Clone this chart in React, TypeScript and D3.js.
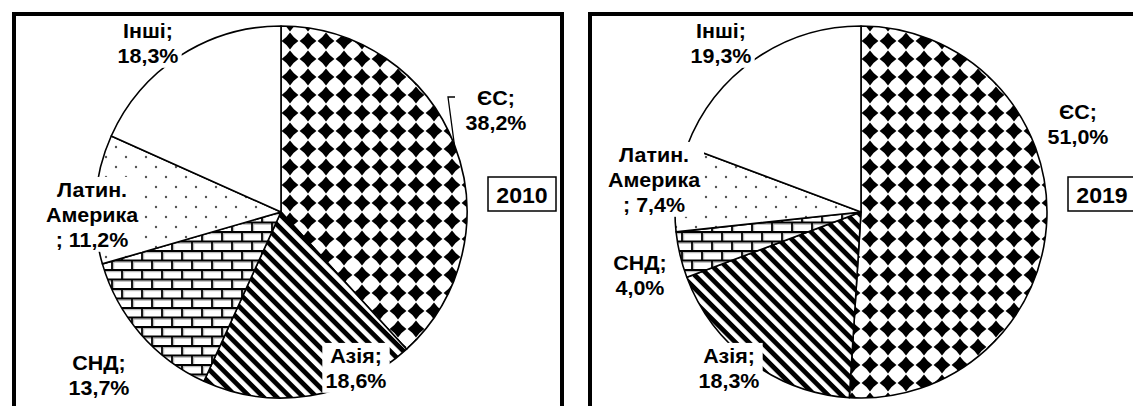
import { useEffect, useRef } from 'react';
import * as d3 from 'd3';

// export shares by region, %
const regions = ['ЄС', 'Азія', 'СНД', 'Латин. Америка', 'Інші'];
const shares2010 = [38.2, 18.6, 13.7, 11.2, 18.3];
const shares2019 = [51.0, 18.3, 4.0, 7.4, 19.3];
const years = ['2010', '2019'];

const W = 1133, H = 406;
const R = 186;
const CY = 212;
const FONT = '"Liberation Sans", Arial, sans-serif';

// layout of the two framed panels
const panelX = [14, 590];
const pieCX = [281, 861];
// label anchors relative to the pie centre (first baseline)
const labelOffsets = [
  [[215, -107], [75, 151], [-182, 158], [-189, -15], [-133, -174]],
  [[217, -93], [-132, 151], [-221, 58], [-207, -50], [-140, -174]],
];
const fills = ['url(#p-diam)', 'url(#p-str)', 'url(#p-brick)', 'url(#p-dots)', '#fff'];

const fmt = (v: number) => d3.format('.1f')(v).replace('.', ',') + '%';

function labelLines(name: string, v: number) {
  if (name === 'Латин. Америка') return ['Латин.', 'Америка', '; ' + fmt(v)];
  return [name + ';', fmt(v)];
}

export default function App() {
  const ref = useRef<SVGSVGElement>(null);

  useEffect(() => {
    const svg = d3.select(ref.current);
    svg.selectAll('*').remove();
    const defs = svg.append('defs');

    // patterns
    const diam = defs.append('pattern').attr('id', 'p-diam').attr('patternUnits', 'userSpaceOnUse')
      .attr('width', 18).attr('height', 18);
    diam.append('rect').attr('width', 18).attr('height', 18).attr('fill', '#fff');
    diam.append('path').attr('fill', '#000')
      .attr('d', 'M9,0.6 Q12.4,5.6 17.4,9 Q12.4,12.4 9,17.4 Q5.6,12.4 0.6,9 Q5.6,5.6 9,0.6Z');

    const str = defs.append('pattern').attr('id', 'p-str').attr('patternUnits', 'userSpaceOnUse')
      .attr('width', 9.4).attr('height', 9.4).attr('patternTransform', 'rotate(45)');
    str.append('rect').attr('width', 9.4).attr('height', 9.4).attr('fill', '#fff');
    str.append('rect').attr('width', 9.4).attr('height', 4.8).attr('fill', '#000');

    const br = defs.append('pattern').attr('id', 'p-brick').attr('patternUnits', 'userSpaceOnUse')
      .attr('width', 20).attr('height', 19);
    br.append('rect').attr('width', 20).attr('height', 19).attr('fill', '#fff');
    br.append('path').attr('stroke', '#aaa').attr('stroke-width', 1).attr('fill', 'none')
      .attr('d', 'M0,2.7H20 M0,12.2H20 M2.7,2.7V10.5 M12.7,12.2V19');
    br.append('path').attr('stroke', '#000').attr('stroke-width', 1.8).attr('fill', 'none')
      .attr('d', 'M0,1H20 M0,10.5H20 M1,1V10.5 M11,10.5V20 M11,0V1');

    const dots = defs.append('pattern').attr('id', 'p-dots').attr('patternUnits', 'userSpaceOnUse')
      .attr('width', 20).attr('height', 20);
    dots.append('rect').attr('width', 20).attr('height', 20).attr('fill', '#fff');
    dots.append('circle').attr('cx', 5).attr('cy', 5).attr('r', 1.2).attr('fill', '#555');
    dots.append('circle').attr('cx', 15).attr('cy', 15).attr('r', 1.2).attr('fill', '#555');

    const pie = d3.pie<number>().sort(null).value(d => d);
    const arc = d3.arc<d3.PieArcDatum<number>>().innerRadius(0).outerRadius(R);

    [shares2010, shares2019].forEach((shares, i) => {
      const cx = pieCX[i];

      // frame
      svg.append('rect').attr('x', panelX[i]).attr('y', 14).attr('width', 548).attr('height', 520)
        .attr('fill', 'none').attr('stroke', '#000').attr('stroke-width', 4);

      const g = svg.append('g').attr('transform', `translate(${cx},${CY})`);
      const arcs = pie(shares);
      g.selectAll('path.slice').data(arcs).enter().append('path')
        .attr('class', 'slice')
        .attr('d', arc)
        .attr('fill', (_, k) => fills[k])
        .attr('stroke', '#000').attr('stroke-width', 1.6).attr('stroke-linejoin', 'round');

      // leader line for the 2010 EU label
      if (i === 0) {
        const a = (arcs[0].startAngle + arcs[0].endAngle) / 2;
        const [ox, oy] = labelOffsets[0][0];
        const pts: [number, number][] = [
          [Math.sin(a) * R, -Math.cos(a) * R],
          [ox - 48, oy - 8],
          [ox - 41, oy - 8],
        ];
        g.append('path').attr('d', d3.line()(pts)).attr('fill', 'none')
          .attr('stroke', '#000').attr('stroke-width', 1.3);
      }

      // data labels
      arcs.forEach((d, k) => {
        const [ox, oy] = labelOffsets[i][k];
        const lg = g.append('g').attr('transform', `translate(${ox},${oy}) scale(1.1,1)`);
        const bg = lg.append('rect').attr('fill', '#fff');
        const t = lg.append('text').attr('text-anchor', 'middle')
          .attr('font-family', FONT).attr('font-weight', 'bold').attr('font-size', 19.5).attr('fill', '#000');
        labelLines(regions[k], d.data).forEach((s, n) => {
          t.append('tspan').attr('x', 0).attr('y', n * 25).text(s);
        });
        const bb = (t.node() as SVGTextElement).getBBox();
        bg.attr('x', bb.x - 3).attr('y', bb.y - 2).attr('width', bb.width + 6).attr('height', bb.height + 3);
      });

      // year box
      g.append('rect').attr('x', 207).attr('y', -35).attr('width', 68).attr('height', 34)
        .attr('fill', '#fff').attr('stroke', '#000').attr('stroke-width', 1.5);
      g.append('text').attr('transform', `translate(241,-9) scale(1.05,1)`)
        .attr('text-anchor', 'middle').attr('font-family', FONT).attr('font-weight', 'bold')
        .attr('font-size', 22).text(years[i]);
    });
  }, []);

  return (
    <svg ref={ref} width={W} height={H}
      style={{ position: 'absolute', left: 0, top: 0, display: 'block', background: '#fff' }} />
  );
}
